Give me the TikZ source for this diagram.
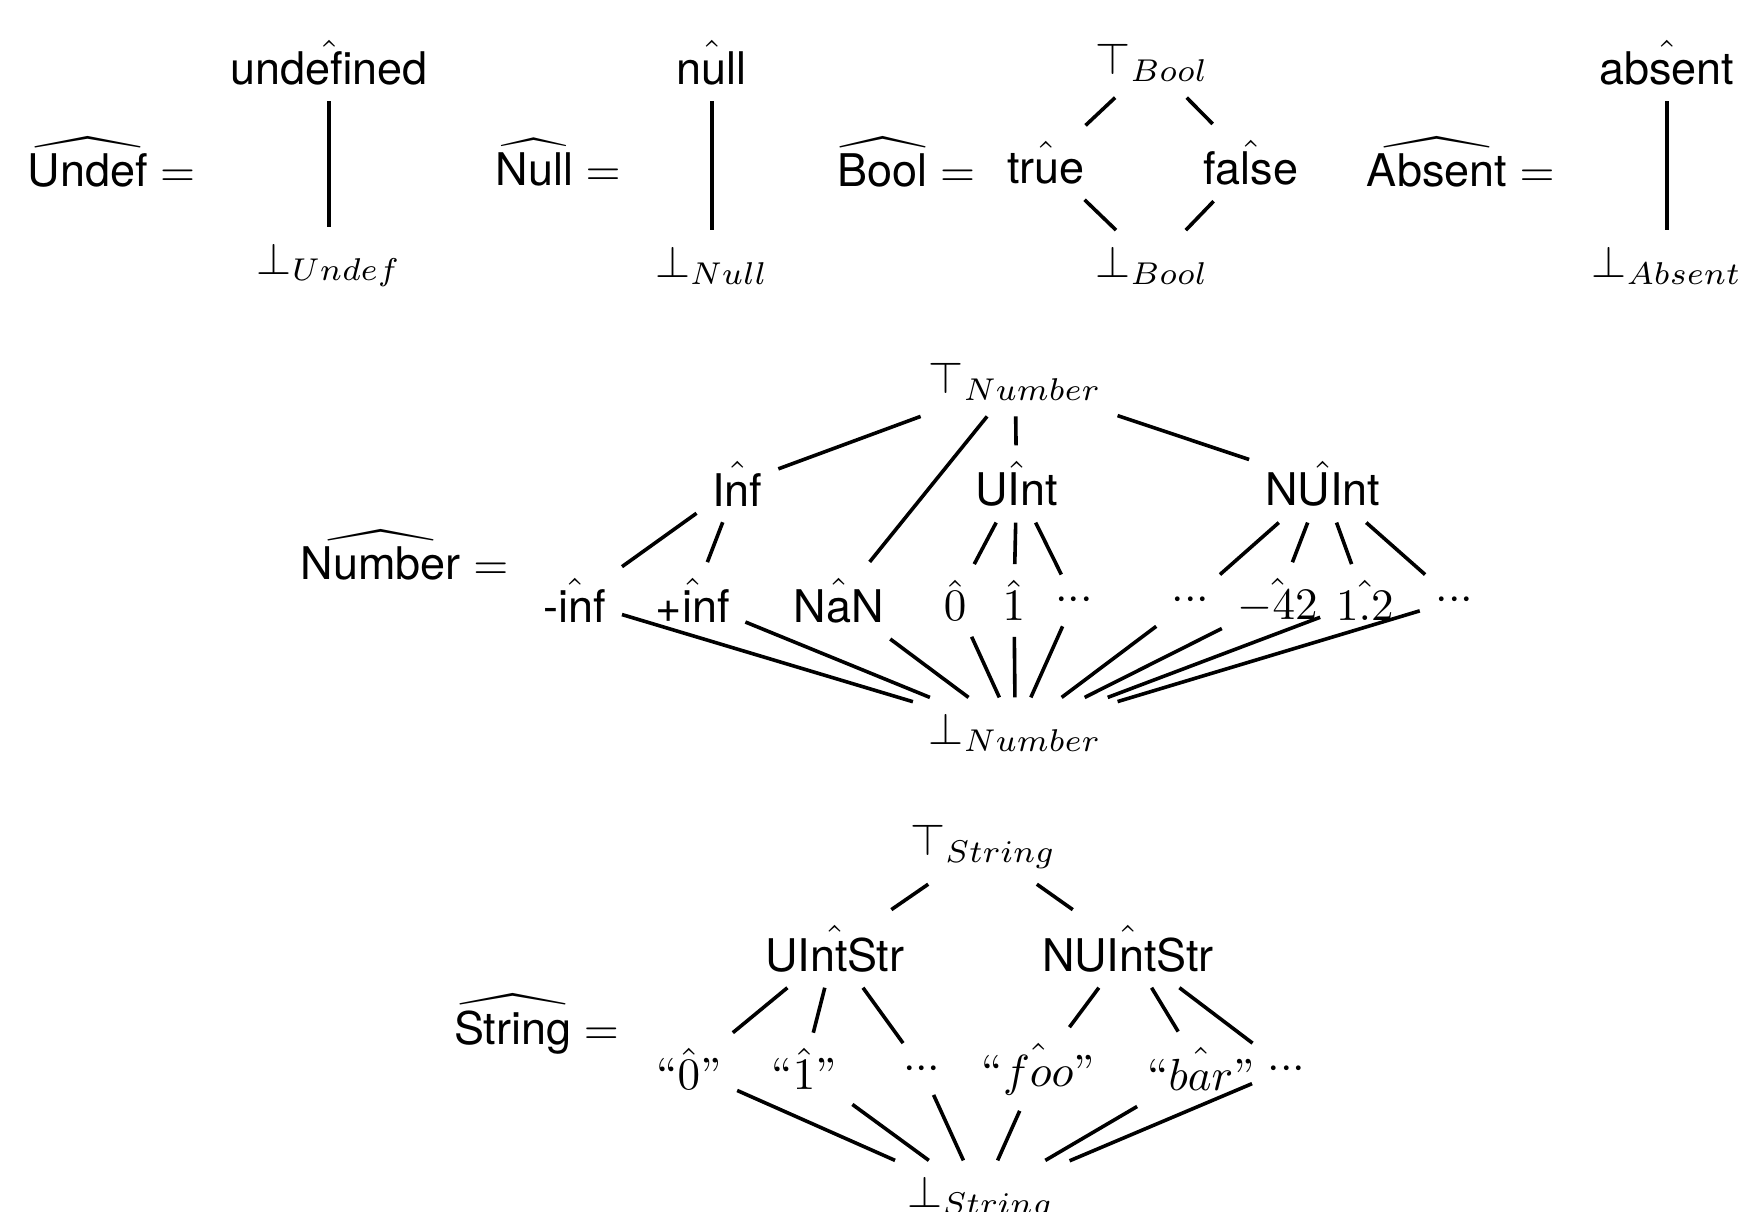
\documentclass[tikz,border=0pt]{standalone}
\usepackage{amsmath, amssymb}
\usepackage{fontspec}
\setsansfont{TeX Gyre Heros}
\usetikzlibrary{positioning}

% abstract domains and their elements
\newcommand{\absdom}[1]{\widehat{\textsf{#1}}}
\newcommand{\absval}[1]{\hat{\textsf{#1}}}
\newcommand{\dts}{${\cdot}{\cdot}{\cdot}$}

\begin{document}
\begin{tikzpicture}[link/.style={thick}]
  \useasboundingbox (0,0) rectangle (13.63,9.46);

  % UNDEF
  \node (undefLbl) at (0.87,8.19) {$\absdom{Undef} =$};
  \node (undefTop) at (2.57,8.97) {$\absval{undefined}$};
  \node (undefBot) at (2.57,7.39) {$\bot_{Undef}$};
  \draw[link] (undefTop) -- (undefBot);

  % NULL
  \node (nullLbl) at (4.36,8.19) {$\absdom{Null} =$};
  \node (nullTop) at (5.56,8.97) {$\absval{null}$};
  \node (nullBot) at (5.56,7.39) {$\bot_{Null}$};
  \draw[link] (nullTop) -- (nullBot);

  % BOOL
  \node (boolLbl) at (7.08,8.19) {$\absdom{Bool} =$};
  \node (boolTrue) at (8.17,8.19) {$\absval{true}$};
  \node (boolFalse) at (9.77,8.19) {$\absval{false}$};
  \node (boolTop) at (9.0,8.97) {$\top_{Bool}$};
  \node (boolBot) at (9.0,7.39) {$\bot_{Bool}$};
  \draw[link] (boolTop) -- (boolTrue) -- (boolBot) -- (boolFalse) -- (boolTop);

  % ABSENT
  \node (absLbl) at (11.41,8.19) {$\absdom{Absent} =$};
  \node (absTop) at (13.02,8.97) {$\absval{absent}$};
  \node (absBot) at (13.02,7.39) {$\bot_{Absent}$};
  \draw[link] (absTop) -- (absBot);

  % NUMBER
  \node (numLbl) at (3.16,5.12) {$\absdom{Number} =$};
  \node (numTop) at (7.93,6.48) {$\top_{Number}$};
  \node (inf) at (5.76,5.68) {$\absval{Inf}$};
  \node (uint) at (7.94,5.68) {$\absval{UInt}$};
  \node (nuint) at (10.33,5.68) {$\absval{NUInt}$};

  \node (minf) at (4.49,4.77) {$\absval{-inf}$};
  \node (pinf) at (5.41,4.77) {$\absval{+inf}$};
  \node (nan) at (6.55,4.77) {$\absval{NaN}$};
  \node (zero) at (7.46,4.77) {$\hat{0}$};
  \node (one) at (7.92,4.77) {$\hat{1}$};
  \node (udots) at (8.39,4.77) {\dts};
  \node (ndots) at (9.30,4.77) {\dts};
  \node (mft) at (9.98,4.77) {$\hat{-42}$};
  \node (otwo) at (10.66,4.77) {$\hat{1.2}$};
  \node (ndotsb) at (11.36,4.77) {\dts};

  \node (numBot) at (7.93,3.74) {$\bot_{Number}$};

  \draw[link] (numTop) -- (inf) (numTop) -- (nan) (numTop) -- (uint) (numTop) -- (nuint);
  \draw[link] (inf) -- (minf) (inf) -- (pinf);
  \draw[link] (uint) -- (zero) (uint) -- (one) (uint) -- (udots);
  \draw[link] (nuint) -- (ndots) (nuint) -- (mft) (nuint) -- (otwo) (nuint) -- (ndotsb);
  \draw[link] (numBot) -- (minf) (numBot) -- (pinf) (numBot) -- (nan)
    (numBot) -- (zero) (numBot) -- (one) (numBot) -- (udots)
    (numBot) -- (ndots) (numBot) -- (mft) (numBot) -- (otwo) (numBot) -- (ndotsb);

  % STRING
  \node (strLbl) at (4.19,1.46) {$\absdom{String} =$};
  \node (strTop) at (7.68,2.85) {$\top_{String}$};
  \node (uintStr) at (6.52,2.05) {$\absval{UIntStr}$};
  \node (nuintStr) at (8.81,2.05) {$\absval{NUIntStr}$};

  \node (szero) at (5.38,1.11) {``$\hat{0}$''};
  \node (sone) at (6.28,1.11) {``$\hat{1}$''};
  \node (sdots) at (7.20,1.11) {\dts};
  \node (sfoo) at (8.11,1.11) {``$\hat{foo}$''};
  \node (sbar) at (9.38,1.11) {``$\hat{bar}$''};
  \node (sdotsb) at (10.05,1.11) {\dts};

  \node (strBot) at (7.66,0.10) {$\bot_{String}$};

  \draw[link] (strTop) -- (uintStr) (strTop) -- (nuintStr);
  \draw[link] (uintStr) -- (szero) (uintStr) -- (sone) (uintStr) -- (sdots);
  \draw[link] (nuintStr) -- (sfoo) (nuintStr) -- (sbar) (nuintStr) -- (sdotsb);
  \draw[link] (strBot) -- (szero) (strBot) -- (sone) (strBot) -- (sdots)
    (strBot) -- (sfoo) (strBot) -- (sbar) (strBot) -- (sdotsb);
\end{tikzpicture}
\end{document}
